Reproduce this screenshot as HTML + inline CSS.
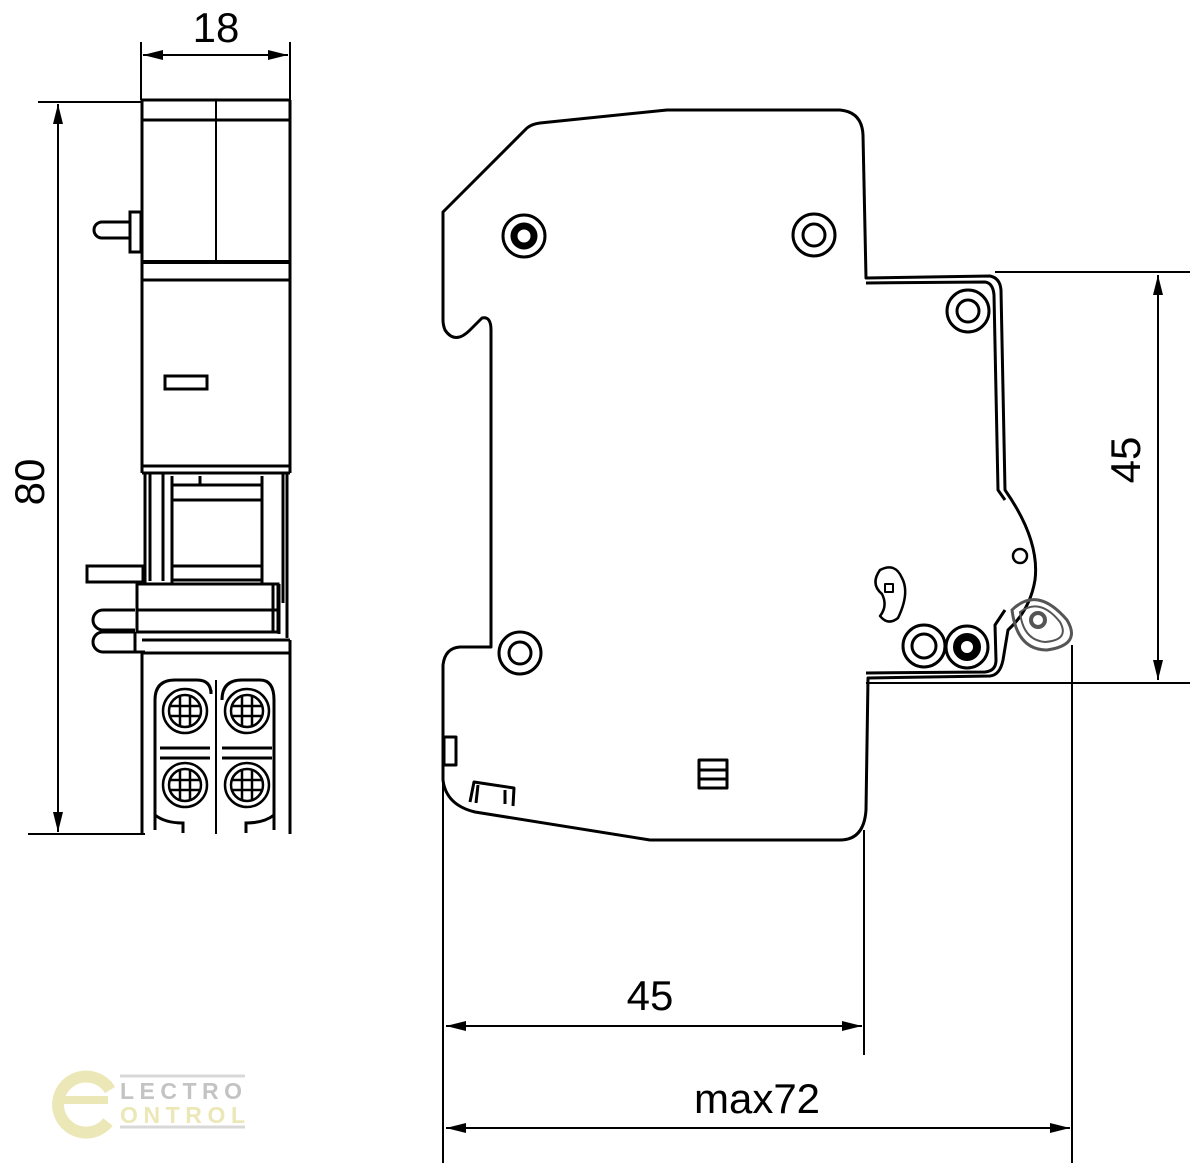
<!DOCTYPE html>
<html><head><style>
html,body{margin:0;padding:0;background:#fff;}
svg{display:block;}
text{font-family:"Liberation Sans",sans-serif;fill:#000;}
</style></head><body>
<svg width="1190" height="1163" viewBox="0 0 1190 1163" xmlns="http://www.w3.org/2000/svg">
<defs>
<marker id="a" viewBox="0 0 20 10" refX="20" refY="5" markerWidth="20" markerHeight="10" orient="auto-start-reverse" markerUnits="userSpaceOnUse"><path d="M0,0 L20,5 L0,10 Z" fill="#000"/></marker>
</defs>
<g fill="none" stroke="#000" stroke-width="2">
<line x1="141" y1="42" x2="141" y2="100"/>
<line x1="290" y1="42" x2="290" y2="100"/>
<line x1="143" y1="55" x2="288" y2="55" marker-start="url(#a)" marker-end="url(#a)"/>
<line x1="38" y1="102" x2="143" y2="102"/>
<line x1="28" y1="834" x2="145" y2="834"/>
<line x1="58" y1="104" x2="58" y2="832" marker-start="url(#a)" marker-end="url(#a)"/>
</g>
<text x="216" y="42" font-size="42" text-anchor="middle">18</text>
<text x="0" y="0" font-size="42" text-anchor="middle" transform="translate(44,482) rotate(-90)">80</text>

<g fill="none" stroke="#000" stroke-width="3">
<line x1="142" y1="100" x2="290" y2="100"/>
<line x1="142" y1="100" x2="142" y2="473"/>
<line x1="290" y1="100" x2="290" y2="473"/>
<line x1="142" y1="120" x2="290" y2="120"/>
<line x1="216" y1="100" x2="216" y2="262" stroke-width="2"/>
<line x1="142" y1="262" x2="290" y2="262" stroke-width="4"/>
<line x1="142" y1="280" x2="290" y2="280" stroke-width="3"/>
<rect x="165" y="376" width="42" height="13"/>
<line x1="142" y1="466" x2="290" y2="466"/>
<line x1="142" y1="473" x2="290" y2="473"/>
<path d="M130,212 h11 v40 h-11 z"/>
<path d="M130,222 h-28 a8,8 0 0 0 0,16 h28"/>
<path d="M145,473 v110 M150,473 v108 M163,473 v108 M172,476 v108 M262,476 v108 M283,473 v130 M287,473 v165"/>
<path d="M172,485 h90 M172,500 h90 M172,566 h90 M172,580 h90 M200,476 v9"/>
<path d="M87,566 h56 v16 h-56 z"/>
<path d="M137,584 h141 v26 h-141 z M137,610 h141 v22 h-141 z M273,584 v48 M279,584 v50"/>
<path d="M135,610 h-32 a10,10 0 0 0 0,20 h32 M135,632 h-32 a10,10 0 0 0 0,20 h32 M135,632 v20 h10"/>
<line x1="142" y1="640" x2="290" y2="640"/>
<line x1="142" y1="653" x2="290" y2="653"/>
<line x1="142" y1="653" x2="142" y2="834"/>
<line x1="290" y1="640" x2="290" y2="834"/>
<line x1="216" y1="680" x2="216" y2="834" stroke-width="2"/>
<path d="M155,830 v-130 q0,-20 20,-20 h22 q14,0 14,14 v-4" />
<path d="M222,700 q0,-20 20,-20 h18 q14,0 14,20 v130"/>
<path d="M160,748 h50 M160,758 h50 M222,748 h50 M222,758 h50"/>
<path d="M155,815 q10,8 28,8 v10 M274,815 q-10,8 -28,8 v10"/>
</g>
<g fill="none" stroke="#000" stroke-width="2.5">
<circle cx="185" cy="711" r="22"/><circle cx="185" cy="711" r="16"/>
<circle cx="247" cy="711" r="22"/><circle cx="247" cy="711" r="16"/>
<circle cx="185" cy="785" r="22"/><circle cx="185" cy="785" r="16"/>
<circle cx="247" cy="785" r="22"/><circle cx="247" cy="785" r="16"/>
<path d="M170,706 h30 M170,716 h30 M180,696 v30 M190,696 v30"/>
<path d="M232,706 h30 M232,716 h30 M242,696 v30 M252,696 v30"/>
<path d="M170,780 h30 M170,790 h30 M180,770 v30 M190,770 v30"/>
<path d="M232,780 h30 M232,790 h30 M242,770 v30 M252,770 v30"/>
</g>

<g fill="none" stroke="#000" stroke-width="3" stroke-linejoin="round">
<path d="M443,212 L527,128 Q532,124 540,123 L667,110 L840,110 Q862,112 863,135 L866,278 L990,276 Q1000,278 1001,290 L1005,490 Q1040,540 1035,580 Q1030,610 1008,630 L1003,660 Q1000,675 990,676 L868,678 L866,810 Q864,840 840,840 L650,840 L475,812 Q446,805 443,780 L443,665 Q445,648 460,647 L491,647 L491,330 Q491,316 482,318 L470,330 Q455,345 445,330 Q443,325 443,320 Z"/>
<path d="M866,283 L985,282 Q993,283 994,295 L998,490 L1005,500 M1005,610 L995,625 L996,660 Q996,671 985,672 L866,673"/>
<rect x="444" y="737" width="12" height="28"/>
<path d="M470,802 l4,-20 l40,6 l-1,18"/>
<path d="M478,785 l-2,18 M505,790 l0,14"/>
<rect x="699" y="760" width="28" height="28"/>
<line x1="699" y1="770" x2="727" y2="770"/>
<line x1="699" y1="779" x2="727" y2="779"/>
<circle cx="1020" cy="556" r="7" stroke-width="2.5"/>
<path d="M880,570 q15,-8 22,8 q8,15 -4,40 q-10,8 -18,-2 q8,-10 2,-22 q-12,-10 -2,-24z" stroke-width="2.5"/>
<rect x="885" y="584" width="8" height="8" stroke-width="2"/>
</g>
<g fill="none" stroke="#000" stroke-width="3">
<circle cx="524" cy="236" r="21"/><circle cx="524" cy="236" r="10" stroke-width="7"/>
<circle cx="814" cy="235" r="21"/><circle cx="814" cy="235" r="11"/>
<circle cx="968" cy="311" r="21"/><circle cx="968" cy="311" r="11"/>
<circle cx="520" cy="653" r="21"/><circle cx="520" cy="653" r="11"/>
<circle cx="924" cy="646" r="21"/><circle cx="924" cy="646" r="12"/>
<circle cx="967" cy="647" r="21"/><circle cx="967" cy="647" r="10" stroke-width="8"/>
</g>
<g fill="none" stroke="#555" stroke-width="3">
<path d="M1012,610 q25,-25 55,10 q15,25 -20,30 q-30,0 -35,-40z"/>
<path d="M1020,612 q20,-15 40,10 q10,18 -15,20 q-22,-2 -25,-30z" stroke-width="2"/>
<circle cx="1038" cy="620" r="7" stroke-width="4"/>
</g>

<g fill="none" stroke="#000" stroke-width="2">
<line x1="995" y1="272" x2="1190" y2="272"/>
<line x1="866" y1="683" x2="1190" y2="683"/>
<line x1="1158" y1="275" x2="1158" y2="680" marker-start="url(#a)" marker-end="url(#a)"/>
<line x1="443" y1="780" x2="443" y2="1163"/>
<line x1="864" y1="830" x2="864" y2="1055"/>
<line x1="1072" y1="645" x2="1072" y2="1163"/>
<line x1="446" y1="1026" x2="862" y2="1026" marker-start="url(#a)" marker-end="url(#a)"/>
<line x1="446" y1="1128" x2="1070" y2="1128" marker-start="url(#a)" marker-end="url(#a)"/>
</g>
<text x="650" y="1010" font-size="42" text-anchor="middle">45</text>
<text x="757" y="1113" font-size="42" text-anchor="middle">max72</text>
<text x="0" y="0" font-size="42" text-anchor="middle" transform="translate(1140,460) rotate(-90)">45</text>

<g opacity="0.75">
<path d="M110,1090 a28,28 0 1 0 -2,32" fill="none" stroke="#e6e0a0" stroke-width="12"/>
<path d="M58,1100 h50" stroke="#e6e0a0" stroke-width="8"/>
<path d="M120,1076 h125 M120,1127 h125" stroke="#ccc" stroke-width="3"/>
<text x="120" y="1099" font-size="23" font-weight="bold" style="fill:#b0b0b0" textLength="122">LECTRO</text>
<text x="120" y="1123" font-size="23" font-weight="bold" style="fill:#e6e0a0" textLength="125">ONTROL</text>
</g>
</svg>
</body></html>
